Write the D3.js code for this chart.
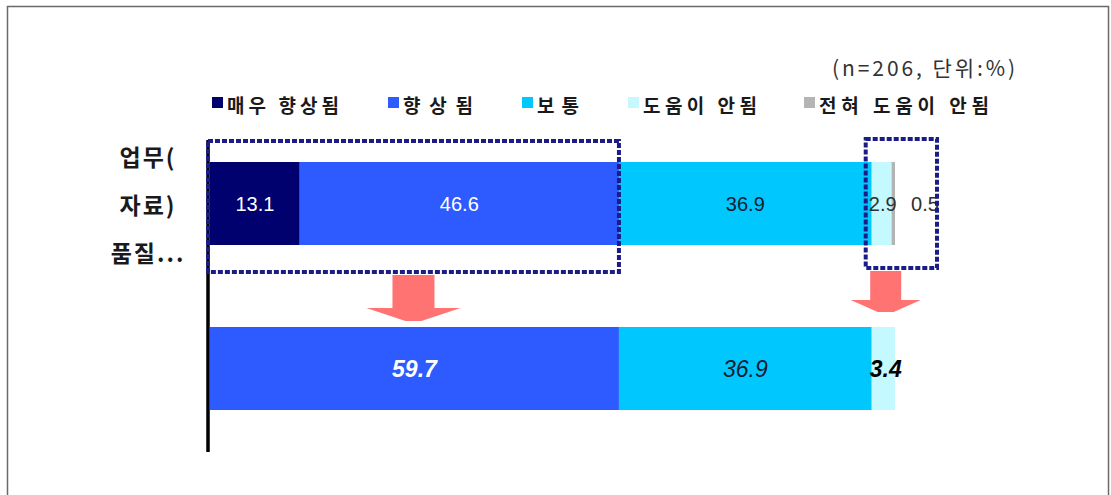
<!DOCTYPE html>
<html>
<head>
<meta charset="utf-8">
<script src="https://cdn.jsdelivr.net/npm/d3@7/dist/d3.min.js"></script>
<style>
  html, body { margin: 0; padding: 0; background: #fff; }
  svg { display: block; }
</style>
</head>
<body>
<svg id="chart" width="1111" height="495"></svg>
<script>
// Response categories and their colours
const categories = ["매우 향상됨", "향상됨", "보통", "도움이 안됨", "전혀 도움이 안됨"];
const colors = ["#00006e", "#2d5bff", "#00c8ff", "#c4f9ff", "#b4b4b4"];

// Detailed responses (percent)
const detailValues = [13.1, 46.6, 36.9, 2.9, 0.5];

// Grouped responses: improved / neutral / not helpful
const groupLabels = ["향상됨", "보통", "도움이 안됨"];
const groupValues = [59.7, 36.9, 3.4];
const groupColors = ["#2d5bff", "#00c8ff", "#c4f9ff"];

const categoryLines = ["업무(", "자료)", "품질..."];
const noteText = "(n=206, 단위:%)";

const svg = d3.select("#chart");
const NUM_FONT = "'Liberation Sans', Arial, sans-serif";
const KR_FONT = "'Noto Sans CJK KR', 'Noto Sans', sans-serif";

// outer frame
svg.append("rect")
  .attr("x", 7.5).attr("y", 6.5).attr("width", 1101).attr("height", 495)
  .attr("fill", "none").attr("stroke", "#6a6a6a").attr("stroke-width", 1.5);

const x = d3.scaleLinear().domain([0, 100]).range([210, 895]);
const barH = 83;

function stack(values) {
  let acc = 0;
  return values.map((v, i) => { const s = acc; acc += v; return { i, v, x0: s, x1: acc }; });
}

const detail = stack(detailValues);
const group = stack(groupValues);
const y1 = 162, y2 = 327;

// detailed bar
const g1 = svg.append("g");
g1.selectAll("rect").data(detail).join("rect")
  .attr("x", d => x(d.x0)).attr("y", y1)
  .attr("width", d => x(d.x1) - x(d.x0)).attr("height", barH)
  .attr("fill", d => colors[d.i]);

// grouped bar
const g2 = svg.append("g");
g2.selectAll("rect").data(group).join("rect")
  .attr("x", d => x(d.x0)).attr("y", y2)
  .attr("width", d => x(d.x1) - x(d.x0)).attr("height", barH)
  .attr("fill", d => groupColors[d.i]);

// value labels, detailed bar
const detailTextColor = ["#ffffff", "#ffffff", "#102030", "#303030", "#303030"];
g1.selectAll("text").data(detail).join("text")
  .attr("x", d => {
    if (d.i === 4) return x(d.x1) + 30;
    if (d.i === 3) return x(d.x0) + 11;
    return (x(d.x0) + x(d.x1)) / 2;
  })
  .attr("y", y1 + barH / 2 + 7)
  .attr("text-anchor", "middle")
  .attr("font-family", NUM_FONT).attr("font-size", 20)
  .attr("fill", d => detailTextColor[d.i])
  .text(d => d.v.toFixed(1));

// value labels, grouped bar
const groupTextColor = ["#ffffff", "#102030", "#000000"];
g2.selectAll("text").data(group).join("text")
  .attr("x", d => d.i === 2 ? x(d.x0) + 14 : (x(d.x0) + x(d.x1)) / 2)
  .attr("y", y2 + barH / 2 + 8)
  .attr("text-anchor", "middle")
  .attr("font-family", NUM_FONT).attr("font-size", 23)
  .attr("font-style", "italic")
  .attr("font-weight", d => d.i === 1 ? "normal" : "bold")
  .attr("fill", d => groupTextColor[d.i])
  .text(d => d.v.toFixed(1));

// vertical axis line
svg.append("line")
  .attr("x1", 208).attr("x2", 208).attr("y1", 140).attr("y2", 452)
  .attr("stroke", "#000").attr("stroke-width", 3.5);

// category label
svg.append("g").selectAll("text").data(categoryLines).join("text")
  .attr("x", 148).attr("y", (d, i) => 166 + i * 48)
  .attr("text-anchor", "middle")
  .attr("font-family", KR_FONT).attr("font-weight", "bold").attr("font-size", 23)
  .attr("letter-spacing", 2)
  .attr("fill", "#1a1a1a")
  .text(d => d);

// dotted highlight boxes
const boxStyle = sel => sel.attr("fill", "none").attr("stroke", "#1c1c86")
  .attr("stroke-width", 4).attr("stroke-dasharray", "5,2");
svg.append("rect").call(boxStyle)
  .attr("x", 208).attr("y", 141)
  .attr("width", x(detail[1].x1) - 208).attr("height", 131);
svg.append("rect").call(boxStyle)
  .attr("x", x(detail[3].x0) - 6).attr("y", 139)
  .attr("width", x(detail[4].x1) - x(detail[3].x0) + 48).attr("height", 129);

// arrows from highlighted groups to the grouped bar
function arrow(cx, top, shaftW, shaftB, headW, tip) {
  const p = d3.path();
  p.moveTo(cx - shaftW / 2, top);
  p.lineTo(cx + shaftW / 2, top);
  p.lineTo(cx + shaftW / 2, shaftB);
  p.lineTo(cx + headW / 2, shaftB);
  p.lineTo(cx + 8, tip);
  p.lineTo(cx - 8, tip);
  p.lineTo(cx - headW / 2, shaftB);
  p.lineTo(cx - shaftW / 2, shaftB);
  p.closePath();
  svg.append("path").attr("d", p.toString()).attr("fill", "#ff7373");
}
arrow((208 + x(detail[1].x1)) / 2, 275, 42, 308, 94, 321);
arrow(x(detail[3].x0) + 14, 271, 31, 300, 70, 312);

// legend
const legendX = [212, 388, 522, 628, 804];
const legendW = [112, 70, 42, 114, 170];
const legend = svg.append("g").selectAll("g").data(categories).join("g")
  .attr("transform", (d, i) => `translate(${legendX[i]},97)`);
legend.append("rect").attr("width", 11).attr("height", 11)
  .attr("fill", (d, i) => colors[i]);
legend.append("text")
  .attr("x", 15).attr("y", 16)
  .attr("font-family", KR_FONT).attr("font-weight", "bold").attr("font-size", 19)
  .attr("textLength", (d, i) => legendW[i]).attr("lengthAdjust", "spacing")
  .attr("fill", "#1a1a1a")
  .text(d => d);

// sample size / unit note
svg.append("text")
  .attr("x", 832).attr("y", 76)
  .attr("font-family", KR_FONT).attr("font-size", 21)
  .attr("textLength", 183).attr("lengthAdjust", "spacing")
  .attr("fill", "#333")
  .text(noteText);
</script>
</body>
</html>
